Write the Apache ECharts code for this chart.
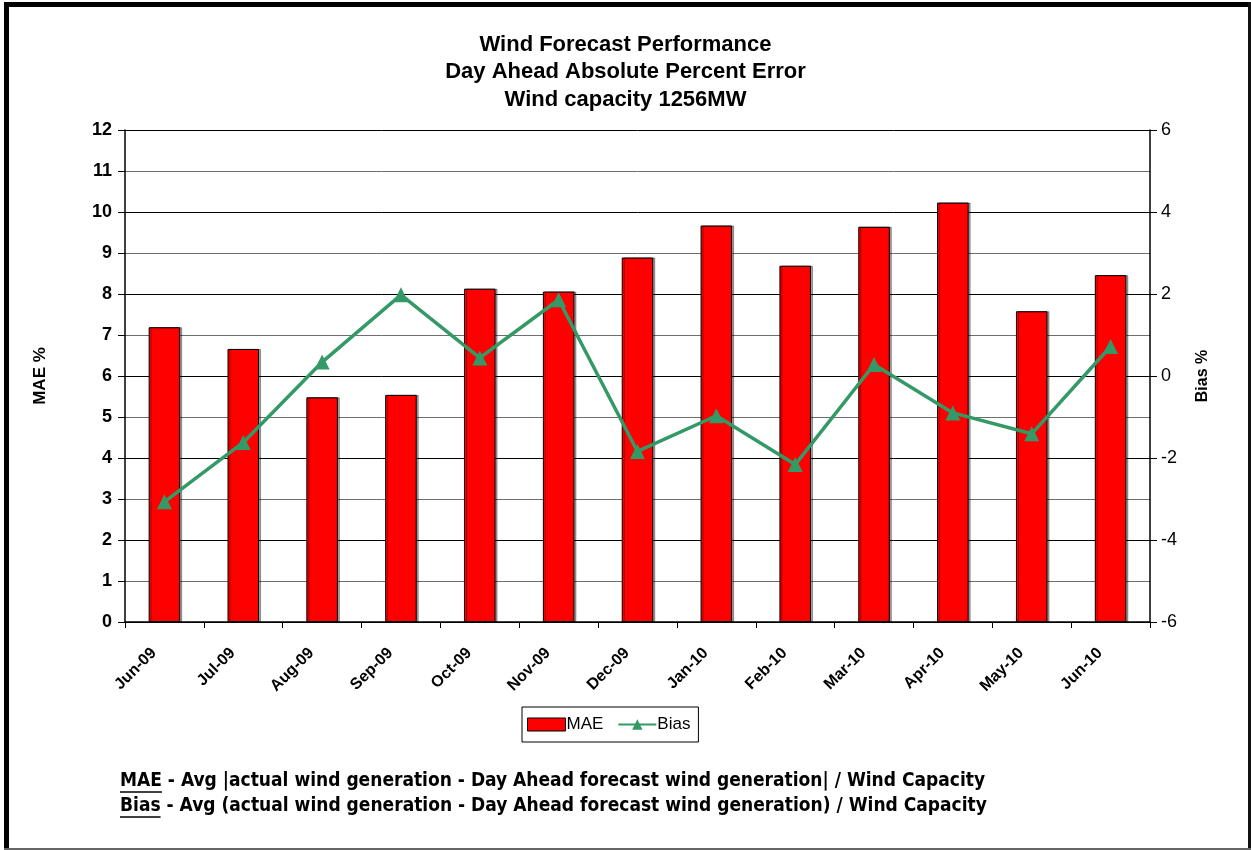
<!DOCTYPE html>
<html>
<head>
<meta charset="utf-8">
<title>Wind Forecast Performance</title>
<script src="https://cdn.jsdelivr.net/npm/echarts@6/dist/echarts.min.js"></script>
<style>
  html, body { margin: 0; padding: 0; background: #fff; }
  #chart { width: 1251px; height: 850px; }
</style>
</head>
<body>
<div id="chart"></div>
<script>
// Monthly day-ahead wind forecast errors (percent of 1256 MW capacity)
const months = ['Jun-09', 'Jul-09', 'Aug-09', 'Sep-09', 'Oct-09', 'Nov-09', 'Dec-09',
                'Jan-10', 'Feb-10', 'Mar-10', 'Apr-10', 'May-10', 'Jun-10'];
const maeValues = [7.19, 6.66, 5.48, 5.54, 8.13, 8.06, 8.89, 9.67, 8.69, 9.64, 10.23, 7.58, 8.46];
const biasValues = [-3.07, -1.62, 0.34, 1.98, 0.44, 1.86, -1.84, -0.97, -2.16, 0.28, -0.90, -1.41, 0.72];

const titleLines = ['Wind Forecast Performance', 'Day Ahead Absolute Percent Error', 'Wind capacity 1256MW'];
const noteLines = [
  ['MAE', ' - Avg |actual wind generation - Day Ahead forecast wind generation| / Wind Capacity'],
  ['Bias', ' - Avg (actual wind generation - Day Ahead forecast wind generation) / Wind Capacity']
];

const FONT = '"Liberation Sans", Arial, sans-serif';
const NOTE_FONT = '"Liberation Sans Narrow", "DejaVu Sans Condensed", "Liberation Sans", sans-serif';
const noteSize = 19;

// measure the leading word so it can be underlined
const ctx = document.createElement('canvas').getContext('2d');
ctx.font = 'bold ' + noteSize + 'px ' + NOTE_FONT;

const noteGraphics = [];
noteLines.forEach(function (parts, i) {
  const y = 782 + i * 25;
  noteGraphics.push({
    type: 'text', left: 120, top: y - 10,
    style: { text: parts[0] + parts[1], font: 'bold ' + noteSize + 'px ' + NOTE_FONT, fill: '#000' }
  });
  const w = ctx.measureText(parts[0]).width;
  noteGraphics.push({
    type: 'line',
    shape: { x1: 120, y1: y + 10, x2: 120 + w, y2: y + 10 },
    style: { stroke: '#000', lineWidth: 1.5 }
  });
});

const chart = echarts.init(document.getElementById('chart'), null, { renderer: 'canvas' });

chart.setOption({
  backgroundColor: '#fff',
  animation: false,
  textStyle: { fontFamily: FONT },
  title: {
    text: titleLines.join('\n'),
    left: 'center',
    top: 26,
    textStyle: { fontSize: 22, fontWeight: 'bold', color: '#000', lineHeight: 27.5, fontFamily: FONT }
  },
  legend: {
    top: 707,
    left: 522,
    orient: 'horizontal',
    padding: [9, 8, 9, 5],
    borderColor: '#000',
    borderWidth: 1,
    itemGap: 14,
    itemWidth: 38,
    itemHeight: 13,
    textStyle: { fontSize: 17, color: '#000', fontFamily: FONT, padding: [0, 0, 0, -4] },
    data: [
      { name: 'MAE', itemStyle: { color: '#ff0000', borderColor: '#000', borderWidth: 1 }, icon: 'rect' },
      { name: 'Bias' }
    ]
  },
  grid: { left: 125, right: 101, top: 130, bottom: 228, containLabel: false },
  xAxis: {
    type: 'category',
    data: months,
    boundaryGap: true,
    axisLine: { lineStyle: { color: '#000', width: 1.5 } },
    axisTick: { show: true, length: 6, inside: false, alignWithLabel: false, lineStyle: { color: '#000' } },
    axisLabel: {
      rotate: 45,
      interval: 0,
      margin: 18,
      padding: [0, 15, 0, 0],
      fontSize: 16,
      fontWeight: 'bold',
      color: '#000',
      fontFamily: FONT
    }
  },
  yAxis: [
    {
      type: 'value',
      min: 0, max: 12, interval: 1,
      name: 'MAE %',
      nameLocation: 'middle',
      nameRotate: 90,
      nameGap: 76,
      nameTextStyle: { fontSize: 17, fontWeight: 'bold', color: '#000', fontFamily: FONT },
      axisLine: { show: true, lineStyle: { color: '#000', width: 1.5 } },
      axisTick: { show: true, length: 7, lineStyle: { color: '#000' } },
      axisLabel: { fontSize: 18, fontWeight: 'bold', color: '#000', margin: 13, fontFamily: FONT },
      splitLine: { show: true, lineStyle: { color: ['#000', '#6e6e6e'], width: 1 } }
    },
    {
      type: 'value',
      min: -6, max: 6, interval: 2,
      name: 'Bias %',
      nameLocation: 'middle',
      nameRotate: 90,
      nameGap: 45,
      nameTextStyle: { fontSize: 16, fontWeight: 'bold', color: '#000', fontFamily: FONT },
      position: 'right',
      axisLine: { show: true, lineStyle: { color: '#000', width: 1.5 } },
      axisTick: { show: true, length: 7, lineStyle: { color: '#000' } },
      axisLabel: { fontSize: 18, color: '#000', margin: 11, fontFamily: FONT },
      splitLine: { show: false }
    }
  ],
  series: [
    {
      name: 'MAE',
      type: 'bar',
      data: maeValues,
      yAxisIndex: 0,
      barWidth: '40%',
      itemStyle: {
        color: '#ff0000',
        borderColor: '#000',
        borderWidth: 1,
        shadowColor: 'rgba(0,0,0,0.35)',
        shadowOffsetX: 2,
        shadowOffsetY: 0,
        shadowBlur: 0
      },
      z: 2
    },
    {
      name: 'Bias',
      type: 'line',
      data: biasValues,
      yAxisIndex: 1,
      symbol: 'triangle',
      symbolSize: 15,
      lineStyle: { color: '#339966', width: 3.5 },
      itemStyle: { color: '#339966' },
      z: 3
    }
  ],
  graphic: [
    // outer frame: heavy on the left/top, light on the right/bottom
    { type: 'rect', shape: { x: 4, y: 2, width: 5, height: 848 }, style: { fill: '#000' } },
    { type: 'rect', shape: { x: 4, y: 2, width: 1247, height: 5 }, style: { fill: '#000' } },
    { type: 'rect', shape: { x: 1248, y: 2, width: 3, height: 848 }, style: { fill: '#111' } },
    { type: 'rect', shape: { x: 4, y: 848, width: 1247, height: 2 }, style: { fill: '#666' } }
  ].concat(noteGraphics)
});
</script>
</body>
</html>
